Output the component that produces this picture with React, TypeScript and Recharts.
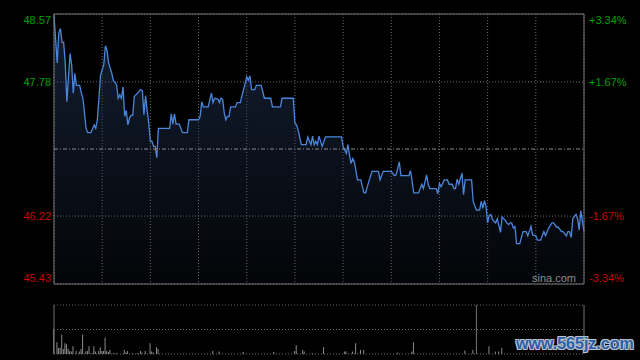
import {
  ComposedChart,
  Area,
  Line,
  XAxis,
  YAxis,
  CartesianGrid,
  ReferenceLine,
  ReferenceArea,
  BarChart,
  Bar,
} from 'recharts';

// ---------------------------------------------------------------------------
// Data (minutes since 09:30, HK session 330 min)
// ---------------------------------------------------------------------------

const minutes = [
  0, 2, 3, 4, 5, 6, 7, 8, 10, 11,
  12, 13, 14, 16, 17, 18, 20, 21, 23, 25,
  26, 27, 29, 30, 31, 32, 33, 34, 35, 36,
  37, 38, 39, 40, 41, 42, 43, 44, 45, 46,
  47, 48, 49, 50, 52, 54, 55, 56, 57, 58,
  59, 60, 61, 62, 63, 64, 65, 72, 73, 74,
  75, 76, 78, 80, 83, 84, 90, 91, 92, 93,
  96, 98, 99, 100, 102, 103, 104, 105, 106, 107,
  108, 109, 110, 113, 114, 116, 118, 119, 120, 121,
  122, 123, 125, 126, 129, 131, 135, 136, 141, 142,
  149, 150, 151, 152, 154, 157, 158, 160, 161, 162,
  163, 164, 165, 167, 169, 178, 179, 180, 182, 183,
  184, 185, 186, 187, 189, 191, 193, 194, 196, 198,
  202, 203, 205, 210, 212, 213, 215, 216, 221, 222,
  224, 227, 229, 230, 232, 233, 234, 238, 239, 240,
  241, 243, 245, 246, 248, 249, 250, 251, 252, 254,
  255, 256, 260, 261, 263, 265, 266, 267, 268, 269,
  270, 271, 272, 273, 275, 276, 278, 279, 281, 282,
  283, 284, 285, 286, 287, 288, 290, 292, 294, 295,
  297, 298, 300, 301, 303, 305, 306, 308, 310, 311,
  313, 314, 316, 317, 319, 320, 321, 322, 323, 325,
  326, 327, 328, 330,
];

const prices = [
  48.56, 48.0, 48.35, 48.4, 48.24, 48.24, 48.0, 47.55, 48.11, 47.98,
  47.65, 47.88, 47.74, 47.74, 47.65, 47.59, 47.24, 47.19, 47.19, 47.28,
  47.24, 47.34, 47.86, 47.92, 47.98, 48.2, 48.15, 48.0, 47.94, 47.88,
  47.79, 47.78, 47.74, 47.59, 47.63, 47.59, 47.72, 47.38, 47.45, 47.28,
  47.36, 47.39, 47.39, 47.61, 47.65, 47.69, 47.68, 47.4, 47.62, 47.45,
  47.3, 47.09, 47.09, 47.03, 47.03, 46.9, 47.24, 47.24, 47.41, 47.29,
  47.41, 47.29, 47.29, 47.19, 47.19, 47.34, 47.34, 47.38, 47.55, 47.49,
  47.49, 47.65, 47.54, 47.59, 47.58, 47.54, 47.59, 47.58, 47.42, 47.34,
  47.38, 47.38, 47.49, 47.49, 47.54, 47.54, 47.69, 47.76, 47.84, 47.8,
  47.85, 47.69, 47.69, 47.74, 47.74, 47.59, 47.59, 47.49, 47.49, 47.59,
  47.59, 47.3, 47.28, 47.22, 47.05, 47.05, 47.14, 47.05, 47.15, 47.05,
  47.09, 47.05, 47.15, 47.03, 47.14, 47.14, 47.14, 47.03, 46.95, 47.05,
  46.93, 46.83, 46.89, 46.85, 46.64, 46.64, 46.49, 46.49, 46.62, 46.74,
  46.74, 46.64, 46.74, 46.74, 46.69, 46.7, 46.85, 46.69, 46.69, 46.75,
  46.49, 46.49, 46.59, 46.54, 46.7, 46.59, 46.54, 46.54, 46.48, 46.6,
  46.56, 46.64, 46.64, 46.59, 46.59, 46.54, 46.54, 46.65, 46.59, 46.72,
  46.47, 46.64, 46.64, 46.39, 46.29, 46.29, 46.39, 46.31, 46.4, 46.33,
  46.14, 46.23, 46.24, 46.18, 46.14, 46.19, 46.03, 46.21, 46.17, 46.14,
  46.12, 46.14, 46.14, 46.08, 46.1, 45.9, 45.9, 46.04, 46.04, 45.99,
  46.1, 46.0, 45.99, 45.94, 45.94, 46.04, 45.99, 46.08, 46.14, 46.14,
  46.09, 46.09, 46.04, 46.04, 45.99, 46.04, 46.04, 45.97, 46.19, 46.24,
  46.19, 46.06, 46.28, 46.04,
];

const volMinutes = [
  0, 2, 3, 4, 5, 6, 7, 8, 9, 10,
  11, 12, 14, 16, 17, 18, 20, 21, 22, 24,
  25, 26, 28, 29, 30, 31, 32, 33, 34, 35,
  37, 39, 44, 45, 46, 49, 52, 54, 55, 57,
  60, 61, 62, 64, 65, 99, 103, 118, 137, 150,
  151, 155, 156, 161, 168, 181, 182, 186, 188, 191,
  193, 214, 223, 224, 256, 261, 271, 275, 277, 279,
];

const volumes = [
  50, 24, 12, 13, 40, 10, 22, 20, 10, 6,
  5, 16, 6, 5, 10, 40, 5, 6, 16, 2,
  16, 5, 6, 14, 6, 6, 33, 6, 4, 8,
  2, 2, 8, 3, 6, 2, 2, 6, 3, 6,
  22, 5, 3, 14, 10, 6, 5, 4, 4, 6,
  18, 8, 5, 2, 14, 5, 5, 5, 22, 8,
  8, 3, 5, 24, 7, 8, 16, 5, 5, 12,
];

const prevClose = 47.0;
const priceTicks = [45.43, 46.22, 47.78, 48.57];
const priceLabels = ['45.43', '46.22', '47.78', '48.57'];
const pctLabels = ['-3.34%', '-1.67%', '+1.67%', '+3.34%'];
const timeTicks = [0, 30, 60, 90, 120, 150, 180, 210, 240, 270, 300, 330];
const volTicks = [0, 50, 100];
const cursorMinute = 263;

// ---------------------------------------------------------------------------
// Styles
// ---------------------------------------------------------------------------

const FONT = 'Arial, "Liberation Sans", sans-serif';
const GRID = '#6c6c6c';
const BORDER = '#747474';
const LINE = '#4a86dc';
const UP = '#00a000';
const DOWN = '#cc0000';

const priceData = minutes.map((t, i) => ({ t, price: prices[i] }));
const volData = volMinutes.map((t, i) => ({ t, vol: volumes[i] }));

function PriceTick(props: any) {
  const { y, payload, side } = props;
  const i = priceTicks.indexOf(payload.value);
  if (i < 0) return null;
  // keep top/bottom labels inside the panel
  const dy = i === priceTicks.length - 1 ? 10 : i === 0 ? -2 : 4;
  const color = priceTicks[i] > prevClose ? UP : DOWN;
  if (side === 'left') {
    return (
      <text x={51} y={y + dy} textAnchor="end" fill={color} fontSize={11} fontFamily={FONT}>
        {priceLabels[i]}
      </text>
    );
  }
  return (
    <text x={589} y={y + dy} textAnchor="start" fill={color} fontSize={11} fontFamily={FONT}>
      {pctLabels[i]}
    </text>
  );
}

export default function App() {
  return (
    <div
      style={{
        position: 'absolute',
        left: 0,
        top: 0,
        width: 640,
        height: 360,
        background: '#000',
        overflow: 'hidden',
      }}
    >
      <ComposedChart
        width={640}
        height={290}
        data={priceData}
        margin={{ top: 14, right: 0, bottom: 6, left: 0 }}
      >
        <defs>
          <linearGradient id="priceFill" x1="0" y1="0" x2="0" y2="1">
            <stop offset="0%" stopColor="#24385c" stopOpacity={0.55} />
            <stop offset="100%" stopColor="#24385c" stopOpacity={0.08} />
          </linearGradient>
        </defs>
        <CartesianGrid yAxisId="left" stroke={GRID} strokeDasharray="1 2" />
        <XAxis type="number" dataKey="t" domain={[0, 330]} ticks={timeTicks} hide />
        <YAxis
          yAxisId="left"
          domain={[45.43, 48.57]}
          ticks={priceTicks}
          interval={0}
          width={54}
          axisLine={false}
          tickLine={false}
          tick={<PriceTick side="left" />}
        />
        <YAxis
          yAxisId="right"
          orientation="right"
          domain={[45.43, 48.57]}
          ticks={priceTicks}
          interval={0}
          width={56}
          axisLine={false}
          tickLine={false}
          tick={<PriceTick side="right" />}
        />
        <Area
          yAxisId="left"
          type="linear"
          dataKey="price"
          stroke={LINE}
          strokeWidth={1.3}
          fill="url(#priceFill)"
          fillOpacity={1}
          dot={false}
          activeDot={false}
          isAnimationActive={false}
        />
        <Line
          yAxisId="right"
          dataKey="price"
          stroke="none"
          dot={false}
          activeDot={false}
          isAnimationActive={false}
        />
        <ReferenceLine yAxisId="left" y={prevClose} stroke="#8c8c8c" strokeDasharray="4 2 1 2" />
        <ReferenceArea
          yAxisId="left"
          x1={0}
          x2={330}
          y1={45.43}
          y2={48.57}
          fill="none"
          stroke={BORDER}
          strokeOpacity={1}
        />
      </ComposedChart>

      <BarChart
        width={640}
        height={70}
        data={volData}
        margin={{ top: 15, right: 56, bottom: 6, left: 54 }}
      >
        <CartesianGrid vertical={false} stroke={GRID} strokeDasharray="1 2" />
        <XAxis type="number" dataKey="t" domain={[0, 330]} hide />
        <YAxis domain={[0, 100]} ticks={volTicks} hide />
        <Bar dataKey="vol" fill="#8a8a8a" barSize={1} isAnimationActive={false} />
        <ReferenceLine x={0} stroke={BORDER} />
        <ReferenceLine x={330} stroke={BORDER} />
        <ReferenceLine x={cursorMinute} stroke={BORDER} />
      </BarChart>

      <div
        style={{
          position: 'absolute',
          left: 532,
          top: 273,
          fontFamily: FONT,
          fontSize: 11,
          lineHeight: '11px',
          color: '#8e8e8e',
        }}
      >
        sina.com
      </div>
      <div
        style={{
          position: 'absolute',
          left: 516,
          top: 336,
          fontFamily: FONT,
          fontSize: 16,
          fontWeight: 'bold',
          lineHeight: '16px',
          color: '#2d5fa8',
          textShadow:
            '1px 1px 0 #b9c3ce, -1px -1px 0 #b9c3ce, 1px -1px 0 #b9c3ce, -1px 1px 0 #b9c3ce, 0 0 2px #8894a2',
        }}
      >
        www.565jz.com
      </div>
    </div>
  );
}
